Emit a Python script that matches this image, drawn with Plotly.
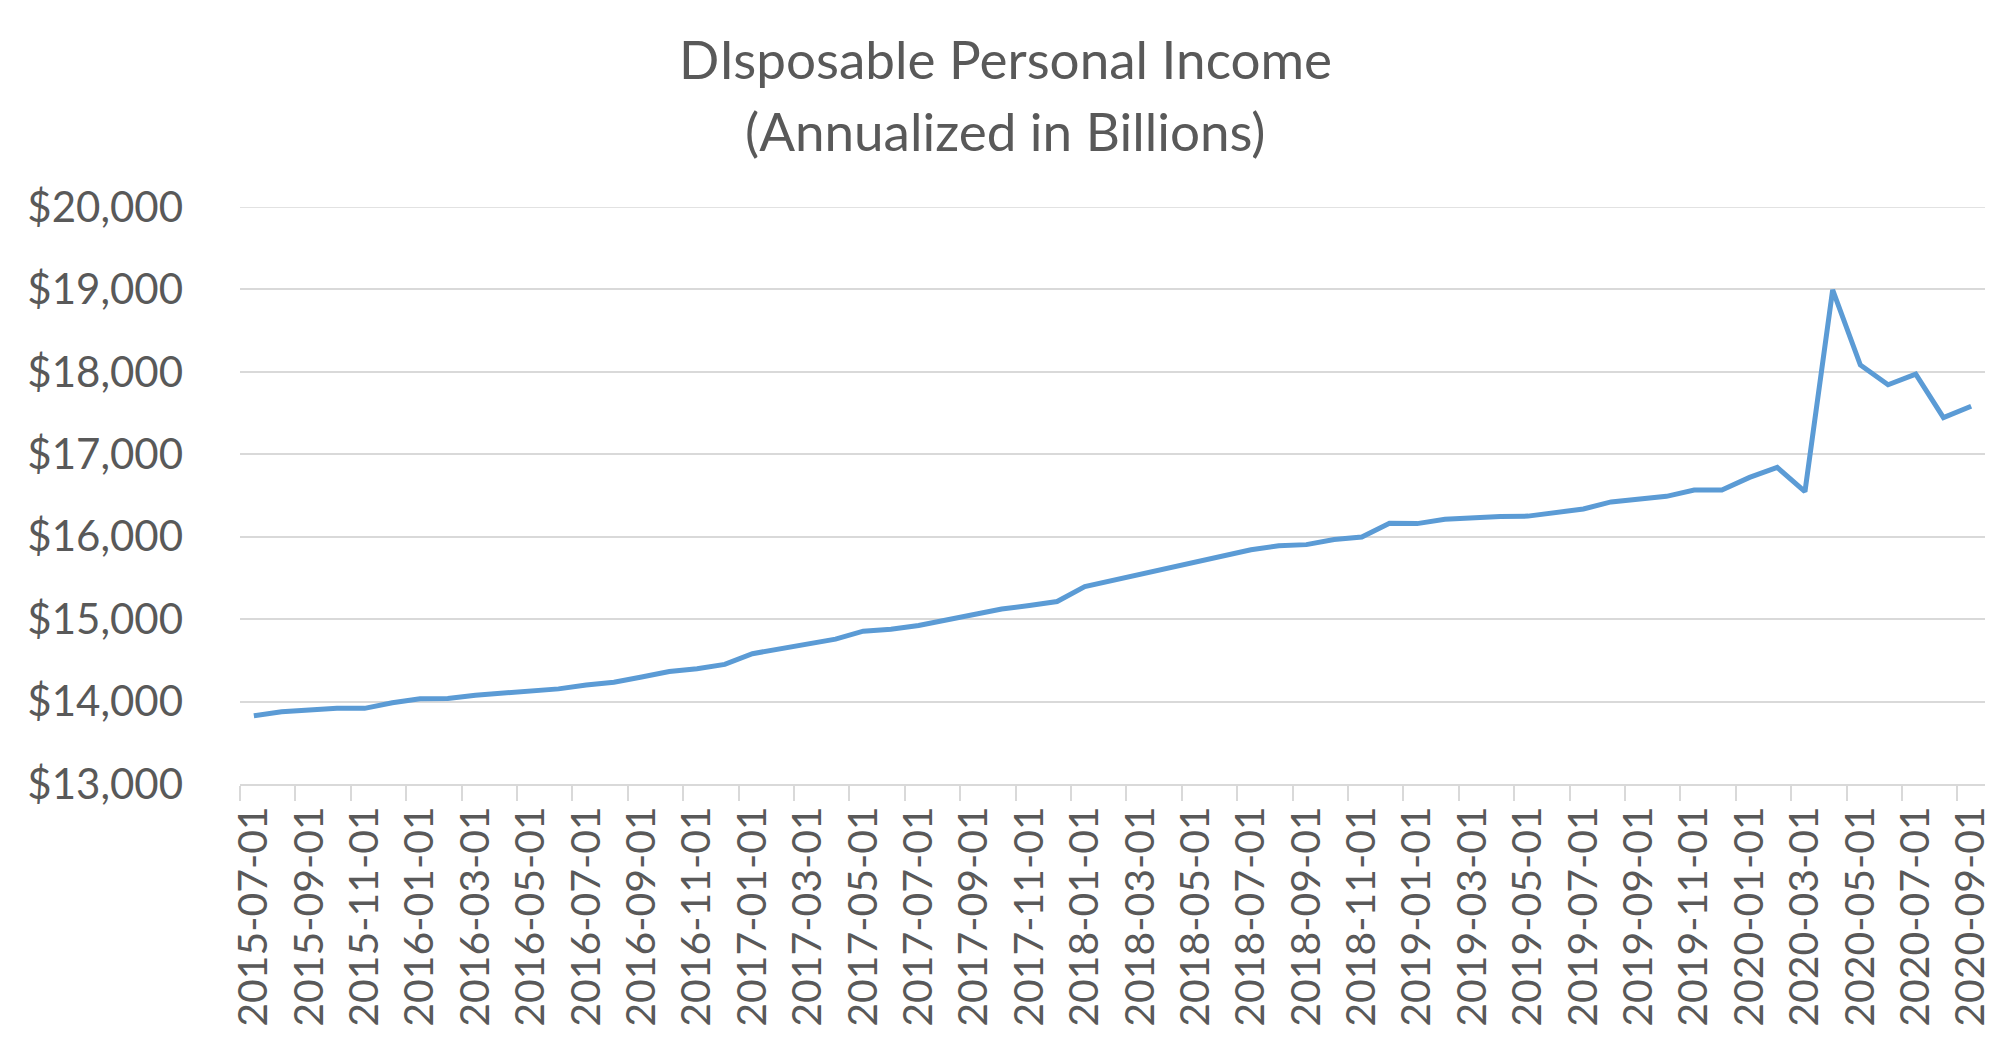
import plotly.graph_objects as go

dates = [
    "2015-07-01", "2015-08-01", "2015-09-01", "2015-10-01", "2015-11-01", "2015-12-01",
    "2016-01-01", "2016-02-01", "2016-03-01", "2016-04-01", "2016-05-01", "2016-06-01",
    "2016-07-01", "2016-08-01", "2016-09-01", "2016-10-01", "2016-11-01", "2016-12-01",
    "2017-01-01", "2017-02-01", "2017-03-01", "2017-04-01", "2017-05-01", "2017-06-01",
    "2017-07-01", "2017-08-01", "2017-09-01", "2017-10-01", "2017-11-01", "2017-12-01",
    "2018-01-01", "2018-02-01", "2018-03-01", "2018-04-01", "2018-05-01", "2018-06-01",
    "2018-07-01", "2018-08-01", "2018-09-01", "2018-10-01", "2018-11-01", "2018-12-01",
    "2019-01-01", "2019-02-01", "2019-03-01", "2019-04-01", "2019-05-01", "2019-06-01",
    "2019-07-01", "2019-08-01", "2019-09-01", "2019-10-01", "2019-11-01", "2019-12-01",
    "2020-01-01", "2020-02-01", "2020-03-01", "2020-04-01", "2020-05-01", "2020-06-01",
    "2020-07-01", "2020-08-01", "2020-09-01",
]

income = [
    13827, 13876, 13899, 13918, 13918, 13986,
    14034, 14036, 14077, 14106, 14120, 14154,
    14201, 14235, 14298, 14365, 14399, 14451,
    14581, 14643, 14691, 14758, 14854, 14878,
    14922, 14984, 15060, 15123, 15166, 15214,
    15396, 15468, 15550, 15622, 15693, 15771,
    15842, 15890, 15904, 15967, 15996, 16164,
    16159, 16211, 16235, 16245, 16250, 16289,
    16336, 16422, 16451, 16490, 16567, 16567,
    16720, 16840, 16548, 18994, 18083, 17843,
    17973, 17445, 17583,
]

title_lines = ["DIsposable Personal Income", "(Annualized in Billions)"]

FONT = "Lato"
GRAY = "#595959"
GRID = "#d9d9d9"
Y_MIN, Y_MAX = 13000, 20000

fig = go.Figure()
fig.add_trace(go.Scatter(
    x=dates, y=income, mode="lines",
    line=dict(color="#5b9bd5", width=5),
    hoverinfo="x+y",
))

fig.update_layout(
    width=2010, height=1055,
    paper_bgcolor="white", plot_bgcolor="white",
    margin=dict(l=240, r=25, t=207, b=271, autoexpand=False),
    showlegend=False,
    font=dict(family=FONT, color=GRAY),
)

# title lines, centred on the whole figure
for line_text, shift in zip(title_lines, [149, 77]):
    fig.add_annotation(
        text=line_text, xref="paper", yref="paper",
        x=(1005 - 240) / 1745, y=1, xanchor="center", yanchor="middle",
        yshift=shift, showarrow=False,
        font=dict(family=FONT, size=53, color=GRAY),
    )

# top gridline (plotly drops the grid line on the range edge)
fig.add_shape(
    type="line", xref="paper", yref="y", x0=0, x1=1, y0=Y_MAX, y1=Y_MAX,
    line=dict(color=GRID, width=1.5), layer="below",
)

fig.update_xaxes(
    type="category",
    range=[-0.5, len(dates) - 0.5],
    tickmode="linear", tick0=0, dtick=2,
    tickson="boundaries",
    ticks="outside", ticklen=15, tickwidth=1.5, tickcolor=GRID,
    showline=True, linecolor=GRID, linewidth=1.5,
    showgrid=False,
    tickangle=-90,
    tickfont=dict(family=FONT, size=41, color=GRAY),
    ticklabelstandoff=4,
    automargin=False,
)

fig.update_yaxes(
    range=[Y_MIN, Y_MAX],
    tickmode="linear", tick0=Y_MIN, dtick=1000,
    tickprefix="$", tickformat=",d",
    showgrid=True, gridcolor=GRID, gridwidth=1.5,
    zeroline=False, showline=False,
    tickfont=dict(family=FONT, size=42, color=GRAY),
    ticklabelstandoff=56,
    automargin=False,
)

fig.write_html(
    "out.html",
    config={"displayModeBar": False},
    post_script="document.body.style.margin='0';document.body.style.overflow='hidden';",
)
